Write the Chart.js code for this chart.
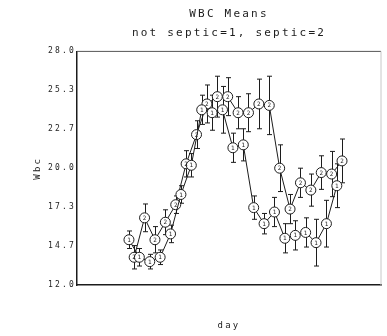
<!DOCTYPE html>
<html>
<head>
<meta charset="utf-8">
<script src="https://cdn.jsdelivr.net/npm/chart.js@4.4.1/dist/chart.umd.min.js"></script>
<style>
  html, body { margin: 0; padding: 0; background: #fff; }
  #wrap { width: 387px; height: 336px; }
</style>
</head>
<body>
<div id="wrap"><canvas id="wbc-chart"></canvas></div>
<script>
// group 1 = not septic, group 2 = septic (points alternate along the day axis)
const notSepticDays = [0, 2, 4, 6, 8, 10, 12, 14, 16, 18, 20, 22, 24, 26, 28, 30, 32, 34, 36, 38, 40];
const septicDays    = [1, 3, 5, 7, 9, 11, 13, 15, 17, 19, 21, 23, 25, 27, 29, 31, 33, 35, 37, 39, 41];

const notSepticWbc = [15.1, 13.9, 13.6, 13.9, 15.5, 18.2, 20.2, 24.0, 23.8, 24.0, 21.4,
                      21.6, 17.3, 16.2, 17.0, 15.2, 15.4, 15.6, 14.9, 16.2, 18.8];
const septicWbc    = [13.9, 16.6, 15.1, 16.3, 17.5, 20.3, 22.3, 24.4, 24.9, 24.9, 23.8,
                      23.8, 24.4, 24.3, 20.0, 17.2, 19.0, 18.5, 19.7, 19.6, 20.5];

// standard errors (half length of the bars)
const notSepticSe = [0.6, 0.6, 0.5, 0.5, 0.6, 0.6, 0.8, 1.0, 1.2, 1.6, 1.0,
                     1.1, 0.8, 0.7, 1.0, 1.0, 1.0, 1.0, 1.6, 1.6, 1.5];
const septicSe    = [0.8, 0.95, 0.9, 0.85, 0.6, 0.9, 0.95, 1.3, 1.4, 1.3, 1.1,
                     1.3, 1.7, 2.0, 1.6, 1.0, 1.0, 1.1, 1.15, 1.55, 1.5];

const yTickLabels = ['12.0', '14.7', '17.3', '20.0', '22.7', '25.3', '28.0'];
const groupMarks = ['1', '2'];

const FONT = "'DejaVu Sans Mono', monospace";
const INK = '#1c1c1c';

// plotter-like wide lettering
const letterSpace = {
    id: 'letterSpace',
    beforeLayout(chart) { chart.ctx.letterSpacing = '2.2px'; },
    beforeDraw(chart) { chart.ctx.letterSpacing = '2.2px'; }
};

const frame = {
    id: 'frame',
    beforeDatasetsDraw(chart) {
        const { ctx, chartArea: a } = chart;
        ctx.save();
        ctx.lineWidth = 1;
        ctx.strokeStyle = '#555';
        ctx.beginPath();
        ctx.moveTo(a.left, a.top);
        ctx.lineTo(a.right, a.top);
        ctx.stroke();
        ctx.strokeStyle = '#c8c8c8';
        ctx.beginPath();
        ctx.moveTo(a.right, a.top);
        ctx.lineTo(a.right, a.bottom);
        ctx.stroke();
        ctx.restore();
    }
};

const errorBars = {
    id: 'errorBars',
    beforeDatasetsDraw(chart) {
        const { ctx, scales: { x, y } } = chart;
        ctx.save();
        ctx.strokeStyle = INK;
        ctx.lineWidth = 1;
        chart.data.datasets.forEach(ds => {
            ds.data.forEach(p => {
                const px = Math.round(x.getPixelForValue(p.x)) + 0.5;
                const top = y.getPixelForValue(p.y + p.se);
                const bot = y.getPixelForValue(p.y - p.se);
                ctx.beginPath();
                ctx.moveTo(px, top); ctx.lineTo(px, bot);
                ctx.moveTo(px - 2.5, top); ctx.lineTo(px + 2.5, top);
                ctx.moveTo(px - 2.5, bot); ctx.lineTo(px + 2.5, bot);
                ctx.stroke();
            });
        });
        ctx.restore();
    }
};

const pointMarks = {
    id: 'pointMarks',
    afterDatasetsDraw(chart) {
        const ctx = chart.ctx;
        ctx.save();
        ctx.letterSpacing = '0px';
        ctx.fillStyle = INK;
        ctx.font = '6px ' + FONT;
        ctx.textAlign = 'center';
        ctx.textBaseline = 'middle';
        chart.data.datasets.forEach((ds, i) => {
            chart.getDatasetMeta(i).data.forEach(el => {
                ctx.fillText(ds.mark, el.x, el.y + 0.5);
            });
        });
        ctx.restore();
    }
};

function series(label, mark, days, wbc, se) {
    return {
        label: label,
        mark: mark,
        data: days.map((d, i) => ({ x: d, y: wbc[i], se: se[i] })),
        showLine: true,
        borderColor: INK,
        borderWidth: 1,
        pointRadius: 5,
        pointBackgroundColor: '#fff',
        pointBorderColor: INK,
        pointBorderWidth: 1,
        tension: 0
    };
}

new Chart(document.getElementById('wbc-chart'), {
    type: 'scatter',
    data: {
        datasets: [
            series('not septic', groupMarks[0], notSepticDays, notSepticWbc, notSepticSe),
            series('septic', groupMarks[1], septicDays, septicWbc, septicSe)
        ]
    },
    options: {
        responsive: true,
        maintainAspectRatio: false,
        animation: false,
        layout: { padding: { left: 0, right: 4, top: 0, bottom: 0 } },
        plugins: {
            legend: { display: false },
            tooltip: { enabled: false },
            title: {
                display: true,
                text: 'WBC Means',
                fullSize: false,
                color: INK,
                font: { family: FONT, size: 11, weight: 'normal' },
                padding: { top: 8, bottom: 5 }
            },
            subtitle: {
                display: true,
                text: 'not septic=1, septic=2',
                fullSize: false,
                color: INK,
                font: { family: FONT, size: 11, weight: 'normal' },
                padding: { top: 0, bottom: 12 }
            }
        },
        scales: {
            x: {
                type: 'linear',
                min: -10,
                max: 48.5,
                ticks: { display: false },
                grid: { display: false, drawTicks: false },
                border: { color: INK, width: 1.5 },
                title: {
                    display: true,
                    text: 'day',
                    color: INK,
                    font: { family: FONT, size: 9 },
                    padding: { top: 0, bottom: 5 }
                },
                afterFit(scale) { scale.height = 51; }
            },
            y: {
                min: 12,
                max: 28,
                afterBuildTicks(scale) {
                    const n = yTickLabels.length - 1;
                    scale.ticks = yTickLabels.map((t, i) => ({ value: 12 + i * (28 - 12) / n }));
                },
                ticks: {
                    callback: (v, i) => yTickLabels[i],
                    color: INK,
                    font: { family: FONT, size: 8 },
                    padding: 1
                },
                grid: { drawOnChartArea: false, drawTicks: false },
                border: { color: INK, width: 1.5 },
                title: {
                    display: true,
                    text: 'Wbc',
                    color: INK,
                    font: { family: FONT, size: 9 },
                    padding: { top: 32, bottom: 0 }
                },
                afterFit(scale) { scale.width = 77; }
            }
        }
    },
    plugins: [letterSpace, frame, errorBars, pointMarks]
});
</script>
</body>
</html>
